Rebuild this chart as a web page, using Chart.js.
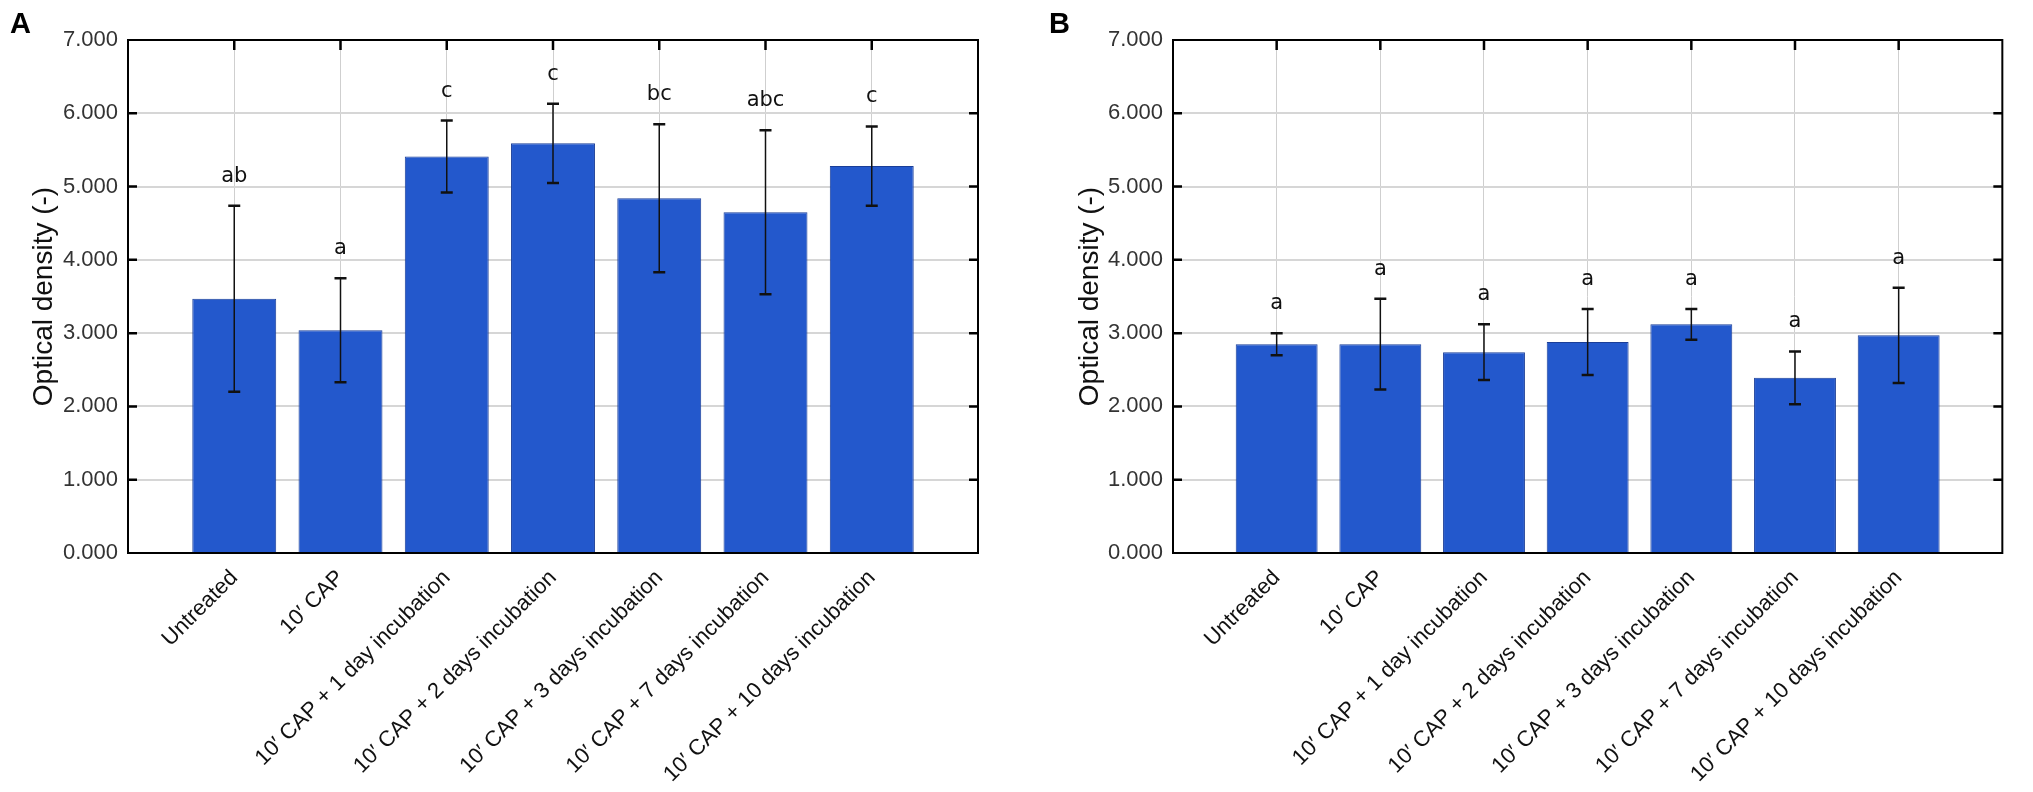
<!DOCTYPE html>
<html lang="en">
<head>
<meta charset="UTF-8">
<title>Optical density</title>
<script src="https://cdn.jsdelivr.net/npm/chart.js"></script>
<style>
  body { margin: 0; background: #fff; width: 2033px; height: 792px; position: relative; overflow: hidden; }
  canvas { position: absolute; top: 0; }
  .panel { position: absolute; font: bold 29px "Liberation Sans", Arial, sans-serif; line-height: 29px; color: #000; }
</style>
</head>
<body>

<canvas id="chartA" width="1016" height="792" style="left:0"></canvas>
<canvas id="chartB" width="1017" height="792" style="left:1016px"></canvas>
<div class="panel" style="left:10px;top:9px">A</div>
<div class="panel" style="left:1049px;top:9px">B</div>

<script>
// categories (x axis)
const categories = [
    'Untreated',
    '10\u2032 CAP',
    '10\u2032 CAP + 1 day incubation',
    '10\u2032 CAP + 2 days incubation',
    '10\u2032 CAP + 3 days incubation',
    '10\u2032 CAP + 7 days incubation',
    '10\u2032 CAP + 10 days incubation'
];

// panel A
const meanA = [3.47, 3.04, 5.41, 5.59, 4.84, 4.65, 5.28];
const sdA = [1.27, 0.71, 0.49, 0.54, 1.01, 1.12, 0.54];
const lettersA = ['ab', 'a', 'c', 'c', 'bc', 'abc', 'c'];

// panel B
const meanB = [2.85, 2.85, 2.74, 2.88, 3.12, 2.39, 2.97];
const sdB = [0.15, 0.62, 0.38, 0.45, 0.21, 0.36, 0.65];
const lettersB = ['a', 'a', 'a', 'a', 'a', 'a', 'a'];

// y axis
const yMin = 0;
const yMax = 7;
const yStep = 1;

const sans = '"Liberation Sans", Arial, sans-serif';

// error bars + significance letters
function errorBars(sds, letters) {
    return {
        id: 'errorBars',
        afterDatasetsDraw(chart) {
            const ctx = chart.ctx;
            const xs = chart.scales.x, ys = chart.scales.y;
            const pts = chart.data.datasets[0].data;
            ctx.save();
            ctx.strokeStyle = '#111';
            pts.forEach((p, i) => {
                const x = xs.getPixelForValue(p.x);
                const top = ys.getPixelForValue(p.y + sds[i]);
                const bot = ys.getPixelForValue(p.y - sds[i]);
                ctx.lineWidth = 1.5;
                ctx.beginPath();
                ctx.moveTo(x, top);
                ctx.lineTo(x, bot);
                ctx.stroke();
                ctx.lineWidth = 2.5;
                ctx.beginPath();
                ctx.moveTo(x - 6, top); ctx.lineTo(x + 6, top);
                ctx.moveTo(x - 6, bot); ctx.lineTo(x + 6, bot);
                ctx.stroke();

                ctx.fillStyle = '#111';
                ctx.font = '21px "DejaVu Sans", sans-serif';
                ctx.textAlign = 'center';
                ctx.textBaseline = 'alphabetic';
                ctx.fillText(letters[i], x, top - 24);
            });
            ctx.restore();
        }
    };
}

// black box with inward ticks
const frame = {
    id: 'frame',
    afterDatasetsDraw(chart) {
        const ctx = chart.ctx;
        const a = chart.chartArea;
        const xs = chart.scales.x, ys = chart.scales.y;
        ctx.save();
        ctx.strokeStyle = '#000';
        ctx.lineWidth = 2.5;
        ctx.beginPath();
        for (let v = yMin + yStep; v < yMax; v += yStep) {
            const y = ys.getPixelForValue(v);
            ctx.moveTo(a.left, y); ctx.lineTo(a.left + 9, y);
            ctx.moveTo(a.right, y); ctx.lineTo(a.right - 9, y);
        }
        categories.forEach((c, i) => {
            const x = xs.getPixelForValue(i);
            ctx.moveTo(x, a.top); ctx.lineTo(x, a.top + 10);
        });
        ctx.stroke();
        ctx.lineWidth = 2;
        ctx.strokeRect(a.left, a.top, a.right - a.left, a.bottom - a.top);
        ctx.restore();
    }
};

function makeChart(id, means, sds, letters, axisWidth, titlePad, rightPad) {
    const ctx = document.getElementById(id).getContext('2d');
    return new Chart(ctx, {
        type: 'bar',
        data: {
            datasets: [{
                data: means.map((v, i) => ({ x: i, y: v })),
                backgroundColor: '#2358cc',
                borderColor: '#1a3e98',
                borderWidth: 1,
                categoryPercentage: 1,
                barPercentage: 0.79
            }]
        },
        options: {
            responsive: false,
            animation: false,
            devicePixelRatio: 1,
            layout: { padding: { top: 40, right: rightPad, left: 0, bottom: 0 } },
            plugins: { legend: { display: false }, tooltip: { enabled: false } },
            scales: {
                x: {
                    type: 'linear',
                    min: -1,
                    max: categories.length,
                    offset: false,
                    grid: { offset: false, color: '#cfcfcf', lineWidth: 1, drawTicks: false },
                    border: { display: false },
                    ticks: {
                        stepSize: 1,
                        autoSkip: false,
                        minRotation: 45,
                        maxRotation: 45,
                        padding: 12,
                        color: '#111',
                        font: { family: sans, size: 22 },
                        callback: v => categories[v] ?? ''
                    },
                    afterFit: s => { s.height = 239; }
                },
                y: {
                    min: yMin,
                    max: yMax,
                    grid: { color: '#d6d6d6', lineWidth: 2, drawTicks: false },
                    border: { display: false },
                    ticks: {
                        stepSize: yStep,
                        padding: 10,
                        color: '#333',
                        font: { family: sans, size: 22 },
                        callback: v => v.toFixed(3)
                    },
                    title: {
                        display: true,
                        text: 'Optical density (-)',
                        color: '#111',
                        font: { family: sans, size: 28 },
                        padding: { top: titlePad, bottom: 0 }
                    },
                    afterFit: s => { s.width = axisWidth; }
                }
            }
        },
        plugins: [errorBars(sds, letters), frame]
    });
}

makeChart('chartA', meanA, sdA, lettersA, 128, 27, 38);
makeChart('chartB', meanB, sdB, lettersB, 157, 57, 12);
</script>

</body>
</html>
